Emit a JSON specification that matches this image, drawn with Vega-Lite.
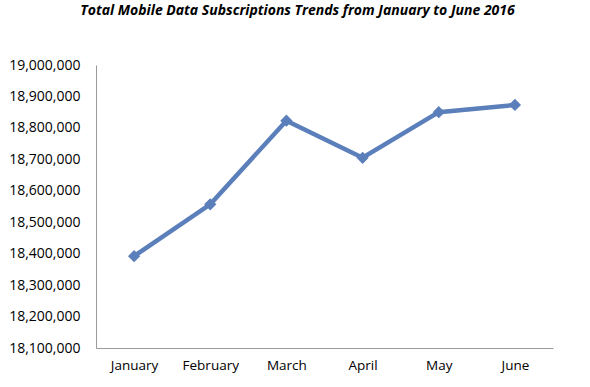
{
  "$schema": "https://vega.github.io/schema/vega-lite/v6.json",
  "width": 457,
  "height": 283,
  "autosize": {"type": "none"},
  "padding": {"left": 96, "top": 65, "right": 37, "bottom": 39},
  "background": "white",
  "title": {
    "text": "Total Mobile Data Subscriptions Trends from January to June 2016",
    "font": "Open Sans",
    "fontSize": 14,
    "fontWeight": "bold",
    "fontStyle": "italic",
    "color": "black",
    "anchor": "middle",
    "dx": -27,
    "offset": 40
  },
  "data": {
    "values": [
      {"month": "January", "subscriptions": 18392000},
      {"month": "February", "subscriptions": 18557000},
      {"month": "March", "subscriptions": 18823000},
      {"month": "April", "subscriptions": 18705000},
      {"month": "May", "subscriptions": 18850000},
      {"month": "June", "subscriptions": 18873000}
    ]
  },
  "encoding": {
    "x": {
      "field": "month",
      "type": "ordinal",
      "sort": null,
      "scale": {"type": "point", "padding": 0.5},
      "axis": {
        "title": null,
        "labelAngle": 0,
        "labelFont": "Open Sans",
        "labelFontSize": 13.5,
        "labelColor": "black",
        "labelPadding": 10,
        "ticks": false,
        "grid": false,
        "domainColor": "#9a9a9a",
        "domainWidth": 1
      }
    },
    "y": {
      "field": "subscriptions",
      "type": "quantitative",
      "scale": {"domain": [18100000, 19000000], "nice": false, "zero": false},
      "axis": {
        "title": null,
        "values": [18100000, 18200000, 18300000, 18400000, 18500000, 18600000, 18700000, 18800000, 18900000, 19000000],
        "labelExpr": "format(datum.value, ',.0f')",
        "labelFont": "Open Sans",
        "labelFontSize": 14,
        "labelColor": "black",
        "labelPadding": 16,
        "ticks": false,
        "grid": false,
        "domainColor": "#9a9a9a",
        "domainWidth": 1
      }
    }
  },
  "layer": [
    {"mark": {"type": "line", "color": "#5b7fbb", "strokeWidth": 4.5}},
    {"mark": {"type": "point", "shape": "diamond", "filled": true, "color": "#5b7fbb", "opacity": 1, "size": 150}}
  ],
  "config": {"view": {"stroke": null}}
}
